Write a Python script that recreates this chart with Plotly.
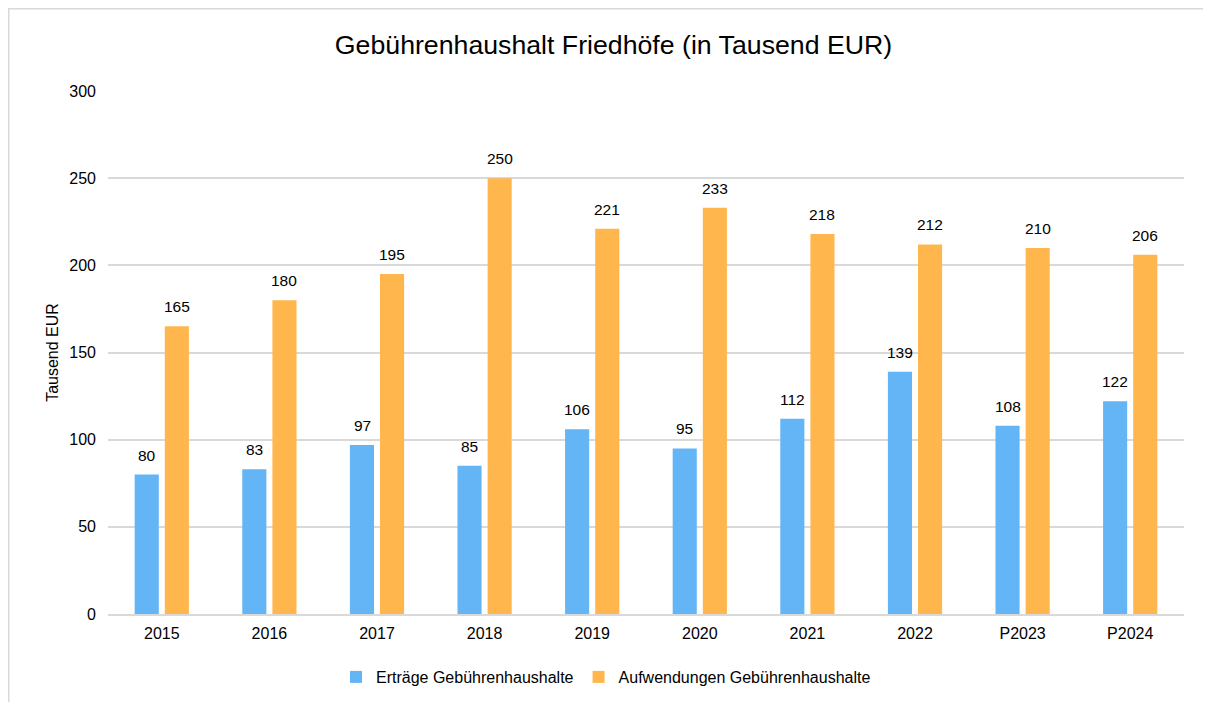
import plotly.graph_objects as go

categories = ["2015", "2016", "2017", "2018", "2019", "2020", "2021", "2022", "P2023", "P2024"]
ertraege = [80, 83, 97, 85, 106, 95, 112, 139, 108, 122]
aufwendungen = [165, 180, 195, 250, 221, 233, 218, 212, 210, 206]
y_ticks = [0, 50, 100, 150, 200, 250, 300]

BLUE = "#64B5F6"
ORANGE = "#FFB74D"
GRID = "#d9d9d9"
FONT = "Liberation Sans, Arial, sans-serif"

fig = go.Figure()
fig.add_trace(go.Bar(name="Erträge Gebührenhaushalte", x=categories, y=ertraege,
                     marker=dict(color=BLUE, line=dict(width=0))))
fig.add_trace(go.Bar(name="Aufwendungen Gebührenhaushalte", x=categories, y=aufwendungen,
                     marker=dict(color=ORANGE, line=dict(width=0))))

# category axis positions are serial indices of the categories
annotations = []
for i, v in enumerate(ertraege):
    annotations.append(dict(x=i, y=v, text=str(v), showarrow=False, xshift=-15, yshift=9,
                            yanchor="bottom", font=dict(size=15.5, color="#000", family=FONT)))
for i, v in enumerate(aufwendungen):
    annotations.append(dict(x=i, y=v, text=str(v), showarrow=False, xshift=15, yshift=9,
                            yanchor="bottom", font=dict(size=15.5, color="#000", family=FONT)))

W, H = 1211, 702
ml, mr, mt, mb = 100, 35, 83, 96
pw, ph = W - ml - mr, H - mt - mb

fig.update_layout(
    width=W, height=H,
    margin=dict(l=ml, r=mr, t=mt, b=mb),
    paper_bgcolor="white", plot_bgcolor="white",
    font=dict(family=FONT, size=16, color="#000"),
    title=dict(text="Gebührenhaushalt Friedhöfe (in Tausend EUR)", x=0.5, xanchor="center",
               y=1 - 37 / H, yanchor="middle", yref="container",
               font=dict(size=26.7, family=FONT, color="#000")),
    barmode="group", bargap=0.44, bargroupgap=0.2,
    xaxis=dict(type="category", range=[-0.5, len(categories) - 0.5], showgrid=False,
               showline=True, linecolor=GRID, linewidth=2, ticklabelstandoff=4,
               ticks="", tickfont=dict(size=16, family=FONT, color="#000")),
    yaxis=dict(range=[0, 300], tickvals=y_ticks, showgrid=True, gridcolor=GRID, gridwidth=1.5,
               zeroline=False, showline=False, ticks="", ticklabelstandoff=11,
               tickfont=dict(size=16, family=FONT, color="#000"),
               title=dict(text="Tausend EUR", standoff=6, font=dict(size=16, family=FONT, color="#000"))),
    legend=dict(orientation="h", x=(328 - ml) / pw, xanchor="left", y=-(669 - (mt + ph)) / ph,
                yanchor="middle", font=dict(size=16, family=FONT, color="#000"),
                itemwidth=30, traceorder="normal"),
    annotations=annotations,
    shapes=[dict(type="rect", xref="paper", yref="paper",
                 x0=(-ml + 0.75) / pw, x1=(W - ml + 10) / pw,
                 y0=-(mb + 10) / ph, y1=(ph + mt - 0.75) / ph,
                 line=dict(color=GRID, width=1.5), fillcolor="rgba(0,0,0,0)", layer="below")],
)

fig.write_html("out.html")
